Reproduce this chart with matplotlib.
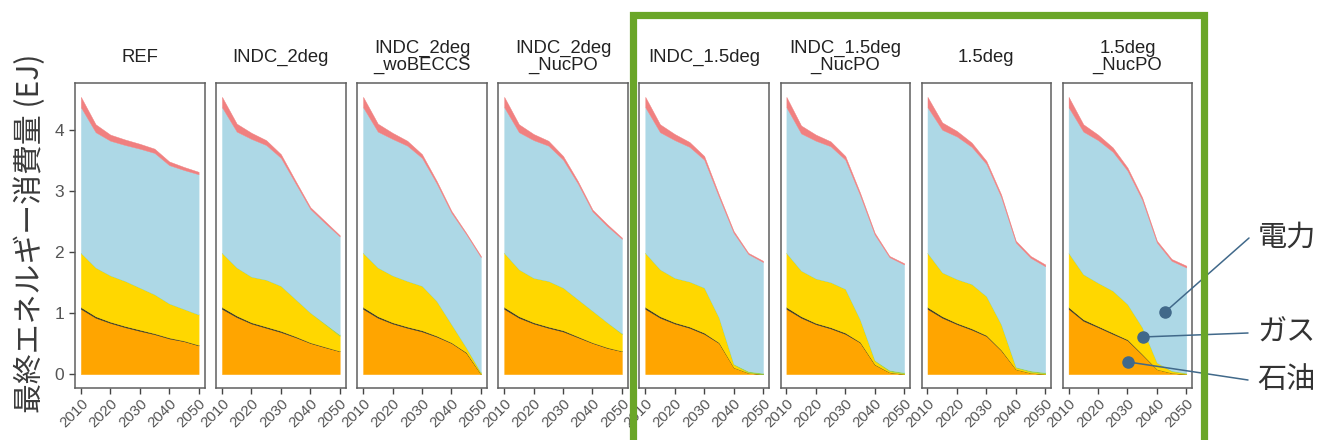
import matplotlib
matplotlib.use("Agg")
import matplotlib.pyplot as plt
from matplotlib.patches import Rectangle

plt.rcParams['font.family'] = ['Liberation Sans', 'DejaVu Sans']

# ---------------- data ----------------
years = [2010, 2015, 2020, 2025, 2030, 2035, 2040, 2045, 2050]
scenarios = ["REF", "INDC_2deg", "INDC_2deg\n_woBECCS", "INDC_2deg\n_NucPO",
             "INDC_1.5deg", "INDC_1.5deg\n_NucPO", "1.5deg", "1.5deg\n_NucPO"]

oil = [
    [1.07, 0.925, 0.84, 0.77, 0.71, 0.655, 0.585, 0.54, 0.47],
    [1.07, 0.935, 0.83, 0.76, 0.69, 0.605, 0.51, 0.44, 0.375],
    [1.07, 0.925, 0.83, 0.76, 0.70, 0.615, 0.51, 0.35, 0.0],
    [1.07, 0.925, 0.83, 0.76, 0.70, 0.605, 0.51, 0.43, 0.375],
    [1.07, 0.925, 0.83, 0.76, 0.66, 0.51, 0.11, 0.02, 0.0],
    [1.07, 0.925, 0.82, 0.75, 0.66, 0.52, 0.155, 0.03, 0.0],
    [1.07, 0.925, 0.82, 0.73, 0.625, 0.39, 0.08, 0.02, 0.0],
    [1.07, 0.875, 0.77, 0.66, 0.555, 0.32, 0.08, 0.02, 0.0],
]
coal = [
    [0.03, 0.025, 0.02, 0.02, 0.02, 0.015, 0.015, 0.01, 0.01],
    [0.03, 0.025, 0.02, 0.02, 0.02, 0.015, 0.01, 0.01, 0.005],
    [0.03, 0.025, 0.02, 0.02, 0.02, 0.015, 0.01, 0.01, 0.0],
    [0.03, 0.025, 0.02, 0.02, 0.02, 0.015, 0.01, 0.01, 0.005],
    [0.03, 0.025, 0.02, 0.02, 0.02, 0.01, 0.0, 0.0, 0.0],
    [0.03, 0.025, 0.02, 0.02, 0.02, 0.01, 0.005, 0.0, 0.0],
    [0.03, 0.025, 0.02, 0.02, 0.015, 0.01, 0.0, 0.0, 0.0],
    [0.03, 0.025, 0.02, 0.02, 0.015, 0.01, 0.0, 0.0, 0.0],
]
gas = [
    [0.89, 0.80, 0.76, 0.74, 0.69, 0.64, 0.56, 0.52, 0.50],
    [0.89, 0.79, 0.75, 0.77, 0.74, 0.61, 0.49, 0.37, 0.25],
    [0.89, 0.80, 0.77, 0.75, 0.73, 0.57, 0.30, 0.08, 0.02],
    [0.89, 0.77, 0.73, 0.75, 0.70, 0.61, 0.52, 0.41, 0.28],
    [0.89, 0.77, 0.73, 0.74, 0.74, 0.41, 0.05, 0.01, 0.0],
    [0.89, 0.75, 0.73, 0.74, 0.72, 0.37, 0.06, 0.02, 0.01],
    [0.89, 0.72, 0.72, 0.73, 0.64, 0.42, 0.03, 0.02, 0.01],
    [0.89, 0.74, 0.71, 0.69, 0.58, 0.44, 0.11, 0.03, 0.01],
]
hydrogen = [
    [0, 0, 0, 0, 0, 0, 0, 0, 0],
    [0, 0, 0, 0, 0, 0, 0, 0.01, 0.02],
    [0, 0, 0, 0, 0, 0, 0, 0, 0.01],
    [0, 0, 0, 0, 0, 0, 0, 0, 0.01],
    [0, 0, 0, 0, 0, 0, 0.01, 0.02, 0.02],
    [0, 0, 0, 0, 0, 0, 0.01, 0.02, 0.02],
    [0, 0, 0, 0, 0, 0, 0.01, 0.02, 0.02],
    [0, 0, 0, 0, 0, 0, 0, 0.01, 0.01],
]
electricity = [
    [2.39, 2.22, 2.21, 2.23, 2.28, 2.32, 2.27, 2.28, 2.30],
    [2.39, 2.23, 2.26, 2.21, 2.10, 1.90, 1.70, 1.65, 1.61],
    [2.39, 2.23, 2.24, 2.22, 2.10, 1.93, 1.83, 1.86, 1.89],
    [2.39, 2.25, 2.26, 2.22, 2.10, 1.90, 1.63, 1.58, 1.55],
    [2.39, 2.25, 2.26, 2.21, 2.10, 1.98, 2.15, 1.92, 1.82],
    [2.39, 2.25, 2.26, 2.23, 2.12, 2.04, 2.06, 1.85, 1.77],
    [2.39, 2.34, 2.34, 2.25, 2.17, 2.09, 2.04, 1.85, 1.74],
    [2.39, 2.34, 2.34, 2.28, 2.19, 2.09, 1.97, 1.80, 1.73],
]
heat = [
    [0.17, 0.13, 0.10, 0.09, 0.08, 0.07, 0.06, 0.05, 0.04],
    [0.17, 0.13, 0.10, 0.08, 0.06, 0.04, 0.03, 0.03, 0.02],
    [0.17, 0.13, 0.10, 0.08, 0.06, 0.04, 0.03, 0.02, 0.02],
    [0.17, 0.13, 0.10, 0.08, 0.06, 0.04, 0.03, 0.03, 0.02],
    [0.17, 0.13, 0.10, 0.08, 0.06, 0.04, 0.03, 0.02, 0.02],
    [0.17, 0.13, 0.10, 0.08, 0.06, 0.04, 0.03, 0.02, 0.02],
    [0.17, 0.12, 0.09, 0.07, 0.05, 0.04, 0.03, 0.03, 0.03],
    [0.17, 0.12, 0.09, 0.07, 0.05, 0.04, 0.03, 0.03, 0.03],
]
x_ticks = [2010, 2020, 2030, 2040, 2050]
y_ticks = [0, 1, 2, 3, 4]
y_label = "最終エネルギー消費量 (EJ)"
callouts = ["電力", "ガス", "石油"]
callout_points = [(2042.8, 1.02), (2035.3, 0.61), (2030.2, 0.20)]

layer_colors = ["#FFA500", "#3a3a22", "#FFD700", "#8fd14f", "#ADD8E6", "#F08080"]

# ---------------- layout ----------------
W, H = 1319, 440
fig = plt.figure(figsize=(W / 100, H / 100), dpi=100)

def fx(px):
    return px / W

def fy(py):
    return 1 - py / H

panel_w = 129.5
panel_step = 141.1
panel_left0 = 75
panel_top, panel_bot = 83, 388
axes = []
for i, name in enumerate(scenarios):
    left = panel_left0 + i * panel_step
    ax = fig.add_axes([fx(left), fy(panel_bot), panel_w / W, (panel_bot - panel_top) / H])
    axes.append(ax)
    ax.stackplot(years, oil[i], coal[i], gas[i], hydrogen[i], electricity[i], heat[i],
                 colors=layer_colors, linewidth=0.3, edgecolor='face')
    ax.set_xlim(2008, 2052)
    ymax = 4.55
    ax.set_ylim(-0.05 * ymax, 1.05 * ymax)
    ax.set_xticks(x_ticks)
    ax.set_xticklabels([str(t) for t in x_ticks], rotation=45, ha='right',
                       rotation_mode='anchor', fontsize=10.8, color='#555555')
    ax.tick_params(axis='x', length=4, width=1.0, color='#444444', pad=2)
    if i == 0:
        ax.set_yticks(y_ticks)
        ax.set_yticklabels([str(t) for t in y_ticks], fontsize=12.5, color='#555555')
        ax.tick_params(axis='y', length=4, width=1.0, color='#444444', pad=4)
    else:
        ax.set_yticks([])
    for sp in ax.spines.values():
        sp.set_color('#5f5f5f')
        sp.set_linewidth(1.1)
    fig.text(fx(left + panel_w / 2), fy(57), name, ha='center', va='center',
             fontsize=13.3, color='#222222', linespacing=1.0)

# y label
fig.text(fx(30), fy((panel_top + panel_bot) / 2 - 2), y_label, rotation=90,
         ha='center', va='center', fontsize=21.5, color='#3a3a3a',
         family=['Noto Sans CJK JP', 'DejaVu Sans'])

# green highlight frame
frame = Rectangle((fx(633), fy(460)), fx(1204) - fx(633), fy(15) - fy(460),
                  transform=fig.transFigure, fill=False, edgecolor='#6aa628',
                  linewidth=5.2, clip_on=False)
fig.patches.append(frame)

# callouts on the last panel
ax = axes[-1]
label_pos = [(1258, 238), (1257, 333), (1257, 380)]
line_end = [(1249, 238), (1248, 333), (1248, 380)]
dot_color = '#41698a'
for txt, (px, py), (lx, ly), (xd, yd) in zip(callouts, label_pos, line_end, callout_points):
    ax.annotate('', xy=(xd, yd), xycoords='data', xytext=(fx(lx), fy(ly)),
                textcoords='figure fraction',
                arrowprops=dict(arrowstyle='-', color=dot_color, lw=1.1,
                                shrinkA=0, shrinkB=0),
                annotation_clip=False)
    ax.plot([xd], [yd], 'o', color=dot_color, markersize=8, clip_on=False, zorder=5)
    fig.text(fx(px), fy(py), txt, ha='left', va='center', fontsize=21, color='#333333',
             family=['Noto Sans CJK JP', 'DejaVu Sans'])

fig.savefig("out.png", dpi=100)
